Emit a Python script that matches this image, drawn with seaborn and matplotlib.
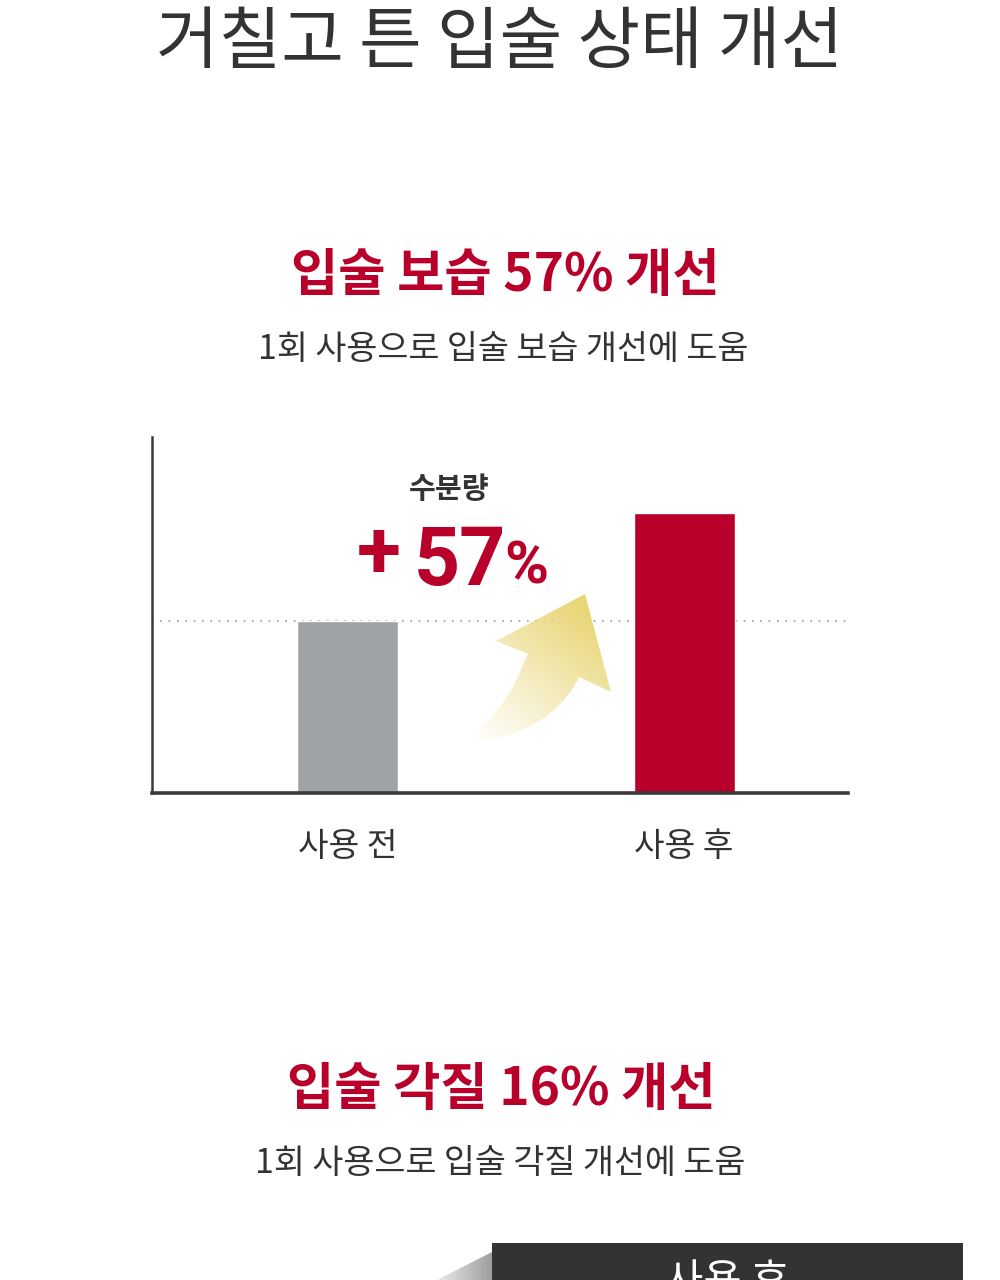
import numpy as np
import pandas as pd
import matplotlib
matplotlib.use("Agg")
import matplotlib.pyplot as plt
from matplotlib.patches import Polygon, Rectangle
import seaborn as sns

# ── DATA ──────────────────────────────────────────────────────────────────────
categories = ["사용 전", "사용 후"]
moisture = [100, 163]          # relative moisture level (before = 100)
gain_sign, gain_value, gain_unit = "+", "57", "%"

TITLE = "거칠고 튼 입술 상태 개선"
HEAD1 = "입술 보습 57% 개선"
SUB1 = "1회 사용으로 입술 보습 개선에 도움"
HEAD2 = "입술 각질 16% 개선"
SUB2 = "1회 사용으로 입술 각질 개선에 도움"
TAB = "사용 후"

sns.set_theme(style="white")
plt.rcParams["font.family"] = ["Noto Sans CJK KR", "DejaVu Sans"]

RED = "#B8002B"
GRAY = "#A0A3A6"
DARK = "#333333"
NUM_FONT = ["Roboto", "DejaVu Sans"]

W, H = 1000, 1280
fig = plt.figure(figsize=(W / 100, H / 100), dpi=100)
fig.patch.set_facecolor("white")

# ── BAR CHART ────────────────────────────────────────────────────────────────
ax = fig.add_axes([152 / W, 1 - 793 / H, 696 / W, (793 - 437) / H])
df = pd.DataFrame({"stage": categories, "value": moisture})
sns.barplot(data=df, x="stage", y="value", hue="stage", palette=[GRAY, RED],
            width=0.3, legend=False, ax=ax, saturation=1, zorder=2)
ax.axhline(moisture[0], color="#9a9a9a", lw=1.2, ls=(0, (1, 4)), zorder=1)
ax.set_xlim(-0.581, 1.487)
ax.set_ylim(0, moisture[0] * 356 / 172)
ax.set_facecolor("white")
for s in ["top", "right"]:
    ax.spines[s].set_visible(False)
ax.spines["left"].set_color("#3a3a3a")
ax.spines["left"].set_linewidth(1.8)
ax.spines["bottom"].set_color("#3a3a3a")
ax.spines["bottom"].set_linewidth(2.6)
ax.set_yticks([])
ax.set_xlabel("")
ax.set_ylabel("")
ax.tick_params(axis="x", length=0, pad=26, labelsize=24, labelcolor=DARK)

# ── OVERLAY (pixel coords) ───────────────────────────────────────────────────
ov = fig.add_axes([0, 0, 1, 1], zorder=5)
ov.set_xlim(0, W)
ov.set_ylim(H, 0)
ov.axis("off")
ov.patch.set_alpha(0)

# gradient arrow
arrow = [(496, 641), (585, 594), (611, 692), (579, 677),
         (573, 688), (564, 700), (553, 711), (541, 720),
         (528, 727), (514, 733), (498, 738), (480, 741), (462, 741),
         (470, 735), (481, 727), (491, 718), (500, 707), (508, 695),
         (516, 681), (522, 667), (528, 654)]
poly = Polygon(arrow, closed=True, facecolor="none", edgecolor="none")
ov.add_patch(poly)
gx, gy = np.meshgrid(np.linspace(455, 615, 160), np.linspace(590, 750, 160))
d = np.array([585 - 470, 594 - 742], float)
d /= np.hypot(*d)
t = ((gx - 470) * d[0] + (gy - 742) * d[1]) / 175.0
t = np.clip(t, 0, 1)
img = np.zeros(gx.shape + (4,))
img[..., 0] = 233 / 255
img[..., 1] = 214 / 255
img[..., 2] = 118 / 255
img[..., 3] = t ** 1.1
im = ov.imshow(img, extent=(455, 615, 750, 590), interpolation="bilinear",
               zorder=3, aspect="auto")
im.set_clip_path(poly)

ov.text(449, 489, "수분량", ha="center", va="center", fontsize=21,
        fontweight="bold", color=DARK)
ov.text(379, 578, gain_sign, ha="center", va="baseline", fontsize=58,
        fontweight="bold", color=RED, family=NUM_FONT)
ov.text(506, 585, gain_value, ha="right", va="baseline", fontsize=58,
        fontweight="bold", color=RED, family=NUM_FONT)
ov.text(504, 583, gain_unit, ha="left", va="baseline", fontsize=43,
        fontweight="bold", color=RED, family=NUM_FONT)

# titles
ov.text(500, 44, TITLE, ha="center", va="center", fontsize=49, color=DARK)
ov.text(505, 276, HEAD1, ha="center", va="center", fontsize=37,
        fontweight="bold", color=RED)
ov.text(503, 350, SUB1, ha="center", va="center", fontsize=24.3, color=DARK)
ov.text(501, 1090, HEAD2, ha="center", va="center", fontsize=37,
        fontweight="bold", color=RED)
ov.text(500, 1164, SUB2, ha="center", va="center", fontsize=24.3, color=DARK)

# bottom tab with shadow
shadow = Polygon([(437, 1280), (492, 1252), (492, 1280)], closed=True,
                 facecolor="none", edgecolor="none")
ov.add_patch(shadow)
sg = np.linspace(0.92, 0.62, 60)[None, :].repeat(10, axis=0)
sim = ov.imshow(sg, cmap="gray", vmin=0, vmax=1, extent=(437, 492, 1280, 1250),
                aspect="auto", zorder=2)
sim.set_clip_path(shadow)
ov.add_patch(Rectangle((492, 1243), 471, 40, facecolor=DARK, edgecolor="none",
                       zorder=3))
ov.text(727, 1262, TAB, ha="center", va="top", fontsize=30, color="white",
        zorder=4)

fig.savefig("out.png", dpi=100, facecolor="white")
